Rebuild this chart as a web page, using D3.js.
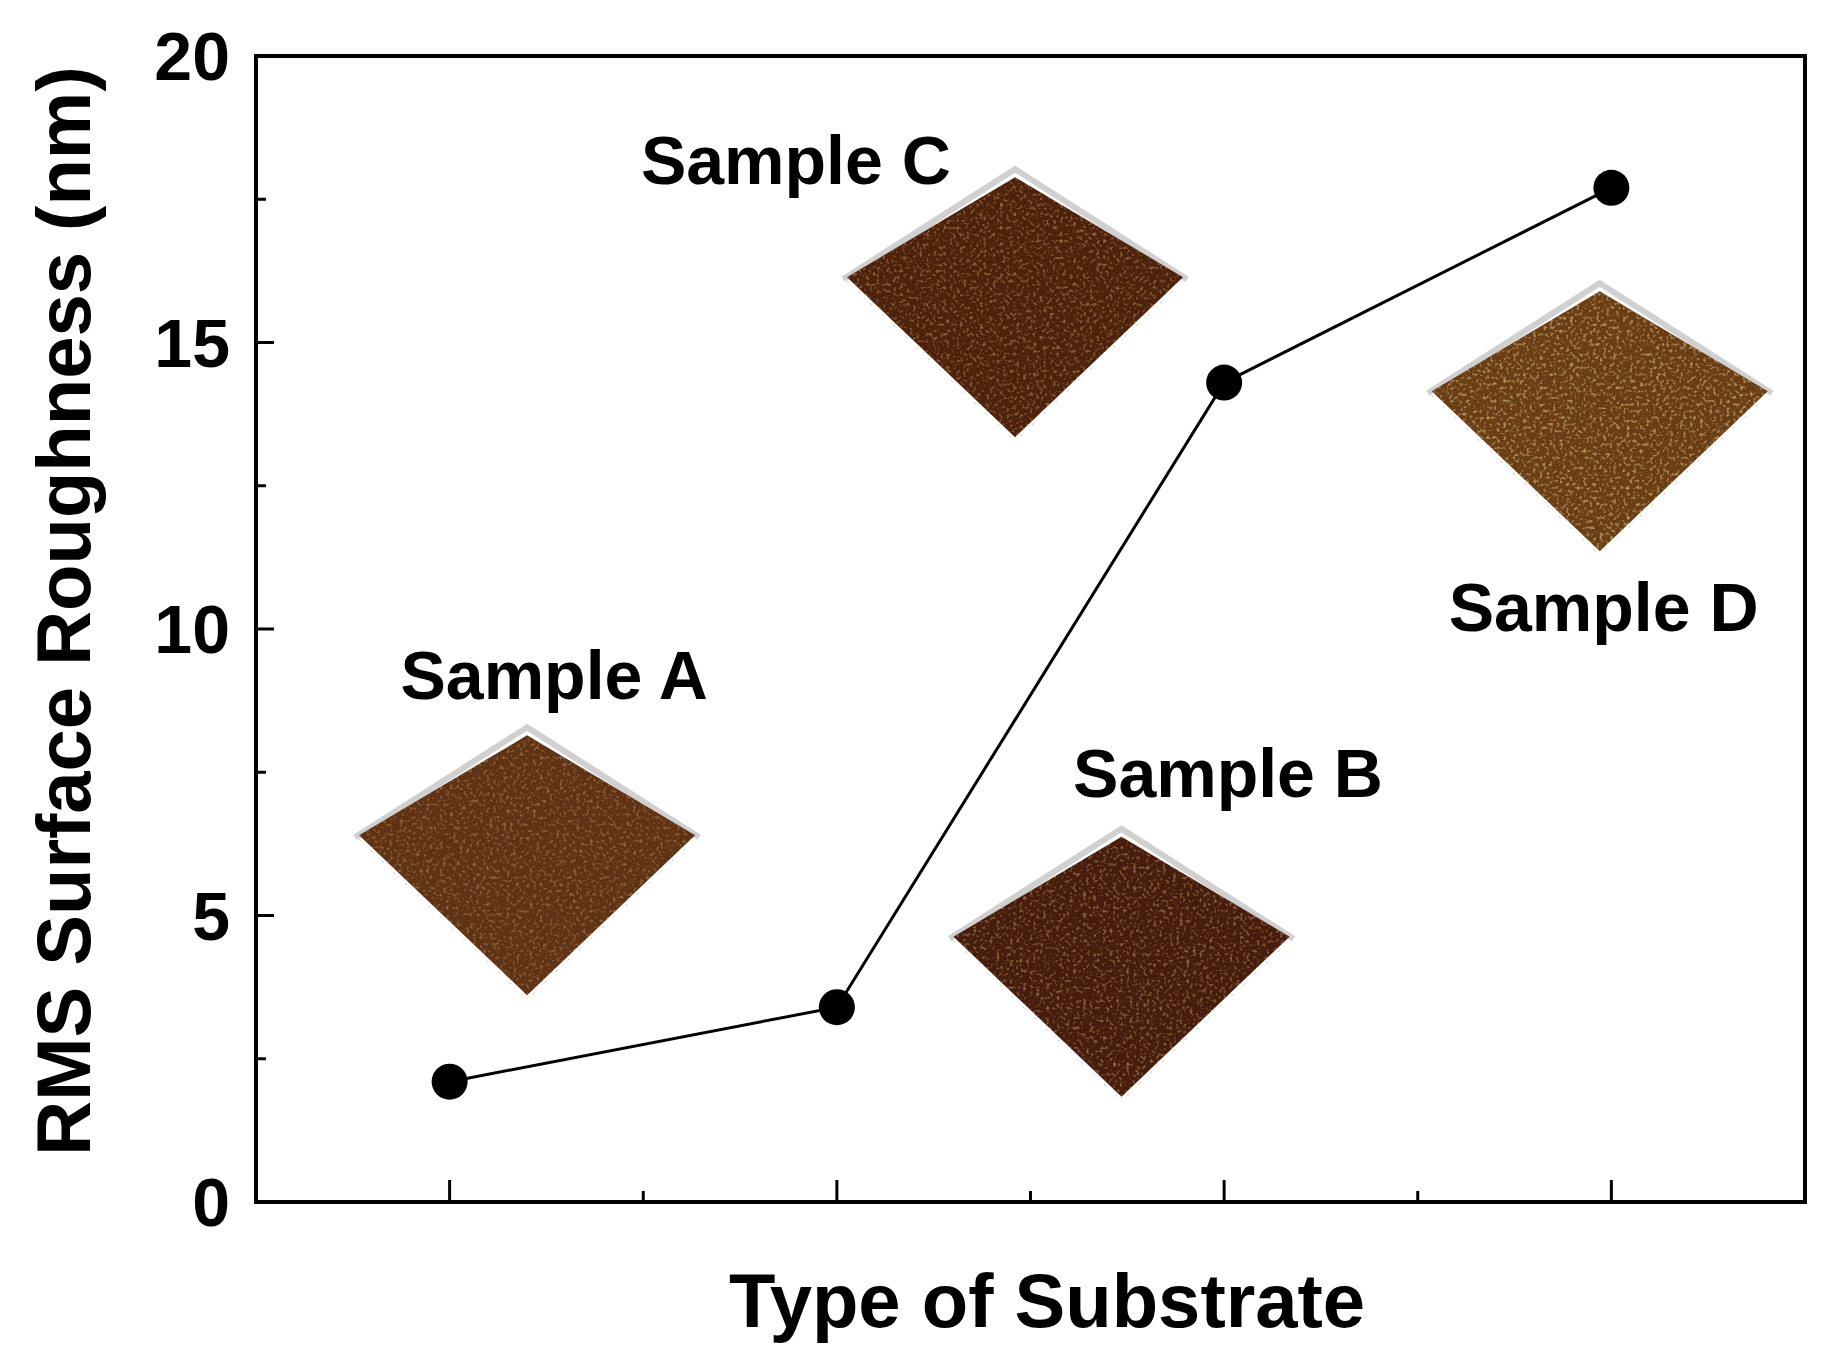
<!DOCTYPE html><html><head><meta charset="utf-8"><script src="https://cdn.jsdelivr.net/npm/d3@7"></script>
<style>body{margin:0;background:#fff}</style></head><body><svg id="c" width="1834" height="1370"></svg>
<script>
const categories=["Sample A","Sample B","Sample C","Sample D"];
const positions=[1,2,3,4];
const roughness=[2.1,3.4,14.3,17.7];
const yTicks=[0,5,10,15,20];
const yMinor=[2.5,7.5,12.5,17.5];
const xMinor=[1.5,2.5,3.5];
const insetX=[1.2,2.735,2.46,3.97];
const insetY=[6.4,4.63,16.14,14.15];
const insetCol=["#5e3014","#451b0b","#4e210e","#6a3c14"];
const labelX=[1.27,3.01,1.894,3.98];
const labelY=[9.2,7.5,18.2,10.4];

const svg=d3.select("#c");
const L=256,R=1805,T=56,B=1202;
const x=d3.scaleLinear().domain([0.5,4.5]).range([L,R]);
const y=d3.scaleLinear().domain([0,20]).range([B,T]);
const font="Arial, 'Liberation Sans', sans-serif";
const defs=svg.append("defs");
insetCol.forEach((c,i)=>{
 const f=defs.append("filter").attr("id","tex"+i).attr("x",0).attr("y",0).attr("width","100%").attr("height","100%");
 f.append("feTurbulence").attr("type","fractalNoise").attr("baseFrequency",0.3).attr("numOctaves",2).attr("seed",i+3).attr("result","n");
 f.append("feColorMatrix").attr("in","n").attr("type","matrix").attr("values",i==3?"0 0 0 0 0.85  0 0 0 0 0.6  0 0 0 0 0.2  0 0 0 1.6 -0.85":"0 0 0 0 0.6  0 0 0 0 0.3  0 0 0 0 0.12  0 0 0 1.4 -0.75").attr("result","s");
 f.append("feComposite").attr("in","s").attr("in2","SourceGraphic").attr("operator","in").attr("result","s2");
 f.append("feMerge").call(m=>{m.append("feMergeNode").attr("in","SourceGraphic");m.append("feMergeNode").attr("in","s2");});
});
const hw=168,ht=100,hb=160;
insetX.forEach((cx,i)=>{
 const px=x(cx),py=y(insetY[i]);
 const g=svg.append("g");
 g.append("path").attr("d",`M${px-hw-4},${py+2}L${px},${py-ht-8}L${px+hw+4},${py+2}`).attr("fill","none").attr("stroke","#d0d0d0").attr("stroke-width",6);
 g.append("path").attr("d",`M${px},${py-ht}L${px+hw},${py}L${px},${py+hb}L${px-hw},${py}Z`).attr("fill",insetCol[i]).attr("filter",`url(#tex${i})`);
 g.append("path").attr("d",`M${px-hw},${py+4}L${px},${py+hb+4}L${px+hw},${py+4}`).attr("fill","none").attr("stroke","#bbb").attr("stroke-width",1).attr("stroke-dasharray","2,14");
});
svg.append("rect").attr("x",L).attr("y",T).attr("width",R-L).attr("height",B-T).attr("fill","none").attr("stroke","#000").attr("stroke-width",4);
yTicks.forEach(v=>{
 svg.append("line").attr("x1",L).attr("x2",L+18).attr("y1",y(v)).attr("y2",y(v)).attr("stroke","#000").attr("stroke-width",3);
 svg.append("text").attr("x",L-26).attr("y",y(v)).attr("dy","0.36em").attr("text-anchor","end").attr("font-family",font).attr("font-weight","bold").attr("font-size",68).text(v);
});
yMinor.forEach(v=>svg.append("line").attr("x1",L).attr("x2",L+10).attr("y1",y(v)).attr("y2",y(v)).attr("stroke","#000").attr("stroke-width",3));
positions.forEach(v=>svg.append("line").attr("x1",x(v)).attr("x2",x(v)).attr("y1",B).attr("y2",B-22).attr("stroke","#000").attr("stroke-width",3));
xMinor.forEach(v=>svg.append("line").attr("x1",x(v)).attr("x2",x(v)).attr("y1",B).attr("y2",B-11).attr("stroke","#000").attr("stroke-width",3));
const pts=positions.map((p,i)=>[p,roughness[i]]);
svg.append("path").attr("d",d3.line().x(d=>x(d[0])).y(d=>y(d[1]))(pts)).attr("fill","none").attr("stroke","#000").attr("stroke-width",3);
svg.selectAll("circle.p").data(pts).join("circle").attr("cx",d=>x(d[0])).attr("cy",d=>y(d[1])).attr("r",18).attr("fill","#000");
categories.forEach((c,i)=>svg.append("text").attr("x",x(labelX[i])).attr("y",y(labelY[i])).attr("dy","0.36em").attr("text-anchor","middle").attr("font-family",font).attr("font-weight","bold").attr("font-size",68).text(c));
svg.append("text").attr("transform","translate(90,611) rotate(-90)").attr("text-anchor","middle").attr("font-family",font).attr("font-weight","bold").attr("font-size",76).text("RMS Surface Roughness (nm)");
svg.append("text").attr("x",1047).attr("y",1300).attr("dy","0.36em").attr("text-anchor","middle").attr("font-family",font).attr("font-weight","bold").attr("font-size",76).text("Type of Substrate");
</script></body></html>
